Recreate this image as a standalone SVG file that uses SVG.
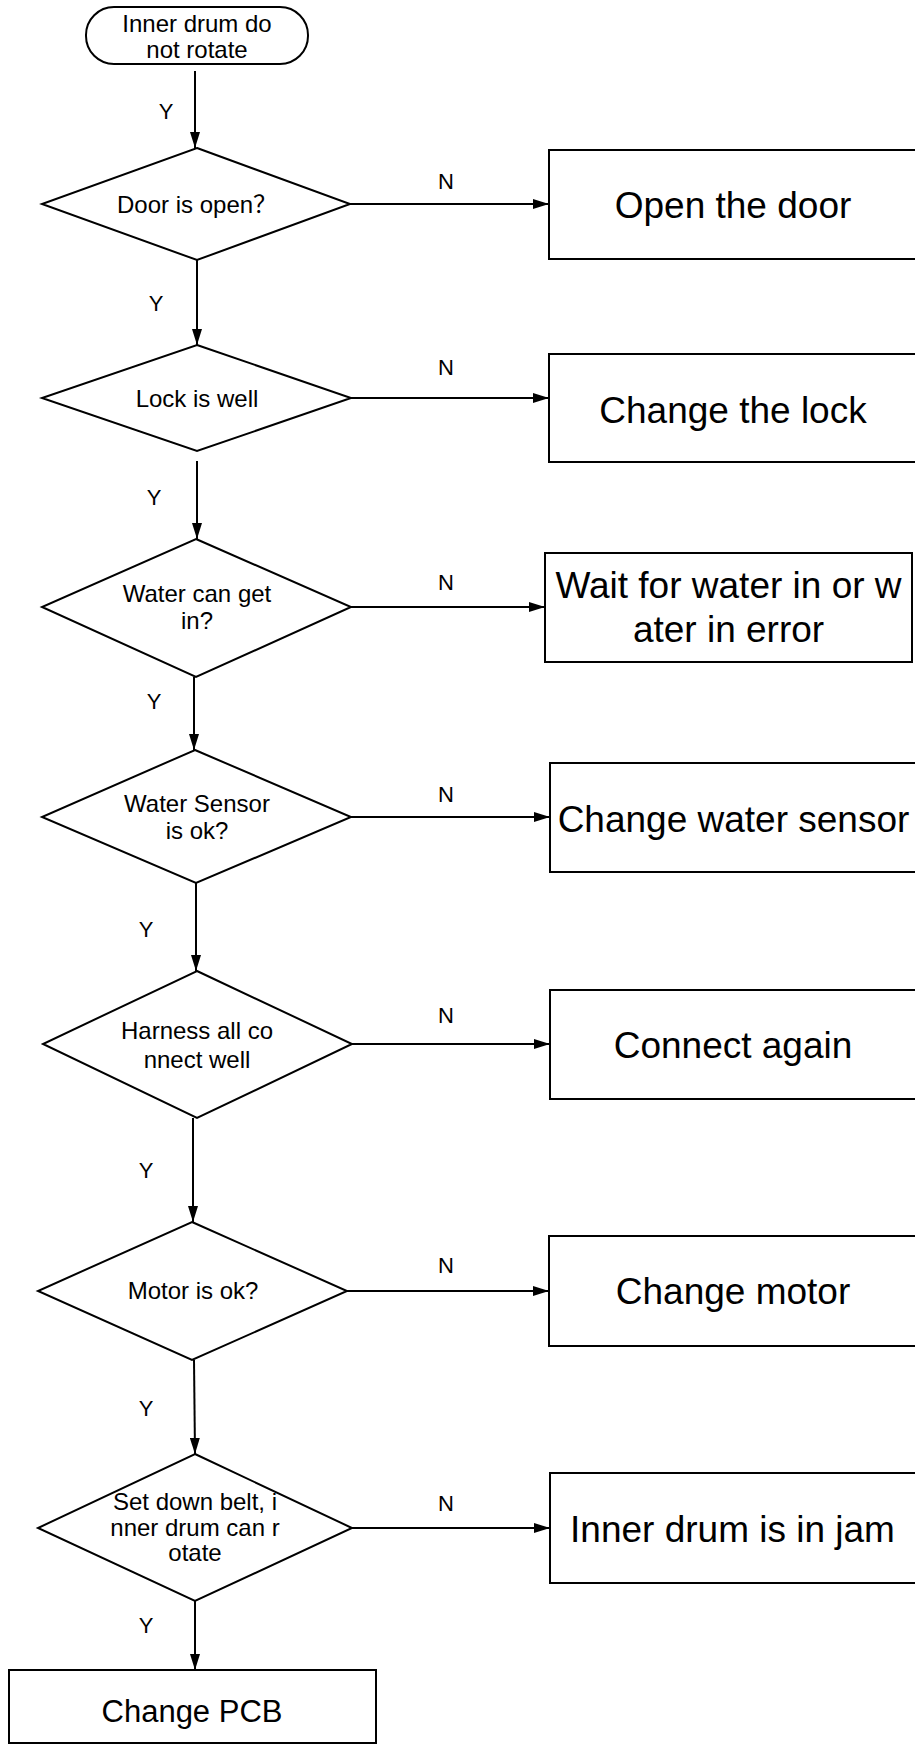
<svg xmlns="http://www.w3.org/2000/svg" width="915" height="1746" viewBox="0 0 915 1746">
<defs>
<marker id="arr" markerUnits="userSpaceOnUse" markerWidth="16" markerHeight="10" refX="16" refY="5" orient="auto">
<path d="M0,0 L16,5 L0,10 z" fill="#000"/>
</marker>
<style>
.shape{fill:#fff;stroke:#000;stroke-width:2}
.conn{fill:none;stroke:#000;stroke-width:2;marker-end:url(#arr)}
text{font-family:"Liberation Sans","Noto Sans CJK SC",Arial,sans-serif;fill:#000;text-anchor:middle}
.cjk{font-family:"Noto Sans CJK SC",sans-serif}
.t24{font-size:24px}
.t37{font-size:37px}
.t31{font-size:31px}
.lbl{font-size:22px}
</style>
</defs>
<rect width="915" height="1746" fill="#fff"/>
<g id="connectors">
<line class="conn" x1="195" y1="71" x2="195" y2="148"/>
<line class="conn" x1="197" y1="260" x2="197" y2="345"/>
<line class="conn" x1="197" y1="461" x2="197" y2="539"/>
<line class="conn" x1="194" y1="677" x2="194" y2="750"/>
<line class="conn" x1="196" y1="883" x2="196" y2="971"/>
<line class="conn" x1="193" y1="1118" x2="193" y2="1222"/>
<line class="conn" x1="194" y1="1360" x2="195" y2="1454"/>
<line class="conn" x1="195" y1="1601" x2="195" y2="1670"/>
<line class="conn" x1="350" y1="204" x2="549" y2="204"/>
<line class="conn" x1="351" y1="398" x2="549" y2="398"/>
<line class="conn" x1="351" y1="607" x2="545" y2="607"/>
<line class="conn" x1="351" y1="817" x2="550" y2="817"/>
<line class="conn" x1="352" y1="1044" x2="550" y2="1044"/>
<line class="conn" x1="347" y1="1291" x2="549" y2="1291"/>
<line class="conn" x1="352" y1="1528" x2="550" y2="1528"/>
<text class="lbl" x="166" y="119">Y</text>
<text class="lbl" x="156" y="311">Y</text>
<text class="lbl" x="154" y="505">Y</text>
<text class="lbl" x="154" y="709">Y</text>
<text class="lbl" x="146" y="937">Y</text>
<text class="lbl" x="146" y="1178">Y</text>
<text class="lbl" x="146" y="1416">Y</text>
<text class="lbl" x="146" y="1633">Y</text>
<text class="lbl" x="446" y="189">N</text>
<text class="lbl" x="446" y="375">N</text>
<text class="lbl" x="446" y="590">N</text>
<text class="lbl" x="446" y="802">N</text>
<text class="lbl" x="446" y="1023">N</text>
<text class="lbl" x="446" y="1273">N</text>
<text class="lbl" x="446" y="1511">N</text>
</g>
<g id="start">
<rect class="shape" x="86" y="7" width="222" height="57" rx="28" ry="28"/>
<text class="t24" x="197" y="32">Inner drum do</text>
<text class="t24" x="197" y="58">not rotate</text>
</g>
<g id="d1">
<polygon class="shape" points="197,148 350,204 197,260 42,204"/>
<text class="t24" x="117" y="213" style="text-anchor:start">Door is open<tspan class="cjk">？</tspan></text>
</g>
<g id="d2">
<polygon class="shape" points="197,345 351,398 197,451 42,398"/>
<text class="t24" x="197" y="407">Lock is well</text>
</g>
<g id="d3">
<polygon class="shape" points="196,539 351,607 196,677 42,607"/>
<text class="t24" x="197" y="602">Water can get</text>
<text class="t24" x="197" y="629">in?</text>
</g>
<g id="d4">
<polygon class="shape" points="195,750 351,817 196,883 42,817"/>
<text class="t24" x="197" y="812">Water Sensor</text>
<text class="t24" x="197" y="839">is ok?</text>
</g>
<g id="d5">
<polygon class="shape" points="197,971 352,1044 197,1118 43,1044"/>
<text class="t24" x="197" y="1039">Harness all co</text>
<text class="t24" x="197" y="1068">nnect well</text>
</g>
<g id="d6">
<polygon class="shape" points="192,1222 347,1291 192,1360 38,1291"/>
<text class="t24" x="193" y="1299">Motor is ok?</text>
</g>
<g id="d7">
<polygon class="shape" points="195,1454 352,1528 195,1601 38,1528"/>
<text class="t24" x="195" y="1510">Set down belt, i</text>
<text class="t24" x="195" y="1536">nner drum can r</text>
<text class="t24" x="195" y="1561">otate</text>
</g>
<g id="b1">
<rect class="shape" x="549" y="150" width="368" height="109"/>
<text class="t37" x="733" y="218">Open the door</text>
</g>
<g id="b2">
<rect class="shape" x="549" y="354" width="368" height="108"/>
<text class="t37" x="733" y="423">Change the lock</text>
</g>
<g id="b3">
<rect class="shape" x="545" y="553" width="367" height="109"/>
<text class="t37" x="728.5" y="598">Wait for water in or w</text>
<text class="t37" x="728.5" y="642">ater in error</text>
</g>
<g id="b4">
<rect class="shape" x="550" y="763" width="367" height="109"/>
<text class="t37" x="733.5" y="832">Change water sensor</text>
</g>
<g id="b5">
<rect class="shape" x="550" y="990" width="367" height="109"/>
<text class="t37" x="733" y="1058">Connect again</text>
</g>
<g id="b6">
<rect class="shape" x="549" y="1236" width="368" height="110"/>
<text class="t37" x="733" y="1304">Change motor</text>
</g>
<g id="b7">
<rect class="shape" x="550" y="1473" width="367" height="110"/>
<text class="t37" x="732.5" y="1542">Inner drum is in jam</text>
</g>
<g id="pcb">
<rect class="shape" x="9" y="1670" width="367" height="73"/>
<text class="t31" x="192" y="1722">Change PCB</text>
</g>
</svg>
